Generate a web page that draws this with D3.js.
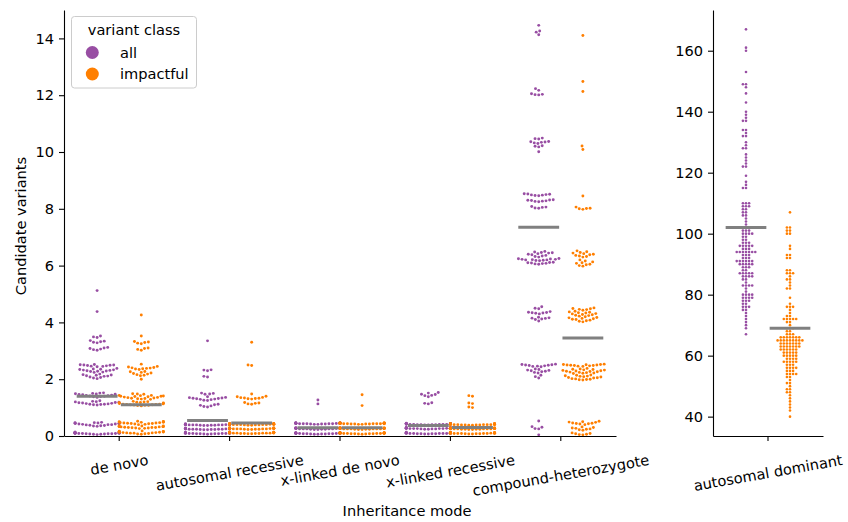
<!DOCTYPE html>
<html>
<head>
<meta charset="utf-8">
<script src="https://cdn.jsdelivr.net/npm/d3@7"></script>
<style>
  body { margin: 0; background: #fff; }
  svg text { font-family: "DejaVu Sans", sans-serif; font-size: 14.6px; fill: #000; }
</style>
</head>
<body>
<svg id="chart" width="848" height="522"></svg>
<script>
// ---- data ----
const categories = ["de novo", "autosomal recessive", "x-linked de novo", "x-linked recessive", "compound-heterozygote"];
const dominantCategory = ["autosomal dominant"];
const hueLevels = ["all", "impactful"];
const hueColors = ["#984ea3", "#ff7f00"];

const deNovoAll = [5.12, 4.38,
  3.47, 3.49, 3.52, 3.28, 3.30, 3.32, 3.34, 3.36, 3.02, 3.04, 3.06, 3.08, 3.10, 3.12,
  2.44, 2.45, 2.46, 2.47, 2.48, 2.49, 2.50, 2.50, 2.51, 2.52,
  2.24, 2.25, 2.27, 2.28, 2.29, 2.30, 2.31, 2.32, 2.33, 2.34, 2.35, 2.36, 2.38,
  2.02, 2.04, 2.06, 2.08, 2.10, 2.11, 2.12, 2.14, 2.15, 2.16, 2.18,
  1.36, 1.38, 1.39, 1.40, 1.41, 1.42, 1.43, 1.44, 1.45, 1.46, 1.47, 1.48, 1.49, 1.50, 1.51, 1.52,
  1.09, 1.10, 1.11, 1.12, 1.12, 1.13, 1.14, 1.15, 1.16, 1.17, 1.18, 1.19, 1.20, 1.21, 1.22, 1.24,
  0.34, 0.35, 0.36, 0.37, 0.38, 0.39, 0.40, 0.40, 0.41, 0.42, 0.42, 0.43, 0.44, 0.44, 0.45, 0.45,
  0.46, 0.47, 0.47, 0.48,
  0.05, 0.06, 0.06, 0.07, 0.07, 0.08, 0.08, 0.08, 0.09, 0.09, 0.09, 0.10, 0.10, 0.10, 0.11, 0.11,
  0.11, 0.12, 0.12, 0.12, 0.13, 0.13, 0.14, 0.14, 0.10, 0.09];

const deNovoImpactful = [4.26,
  3.52, 3.25, 3.27, 3.29, 3.31, 3.33, 3.02, 3.05, 3.08, 3.10,
  2.53, 2.34, 2.36, 2.37, 2.38, 2.39, 2.40, 2.41, 2.43, 2.45,
  2.12, 2.14, 2.16, 2.18, 2.20, 2.22, 2.24, 2.26, 2.27, 2.00,
  1.47, 1.48, 1.49,
  1.29, 1.30, 1.31, 1.32, 1.33, 1.34, 1.35, 1.36, 1.37, 1.38, 1.39, 1.40, 1.40, 1.41, 1.42, 1.43, 1.43,
  1.06, 1.07, 1.08, 1.08, 1.09, 1.10, 1.10, 1.11, 1.12, 1.12, 1.13, 1.14, 1.15, 1.16, 1.16, 1.17,
  1.18, 1.19, 1.20, 1.21, 1.22, 1.11,
  0.40, 0.41, 0.42, 0.43, 0.44, 0.45, 0.46, 0.46, 0.47, 0.48, 0.48, 0.49, 0.50, 0.50, 0.51, 0.52,
  0.44, 0.47,
  0.26, 0.27, 0.28, 0.28, 0.29, 0.30, 0.30, 0.31, 0.32, 0.32, 0.33, 0.33, 0.34, 0.35, 0.35, 0.36,
  0.30, 0.33,
  0.06, 0.07, 0.08, 0.09, 0.10, 0.10, 0.11, 0.12, 0.12, 0.13, 0.13, 0.14, 0.15, 0.15, 0.16, 0.17,
  0.18, 0.11, 0.14];

const recessiveAll = [3.35, 2.30, 2.32, 2.33, 2.08, 2.10,
  1.47, 1.48, 1.50, 1.51,
  1.25, 1.26, 1.28, 1.29, 1.30, 1.31, 1.32, 1.33, 1.34, 1.35, 1.36, 1.38,
  1.02, 1.04, 1.06, 1.08, 1.10, 1.12,
  0.08, 0.10, 0.09, 0.11, 0.07, 0.12, 0.10, 0.08, 0.13, 0.09, 0.10, 0.11, 0.06, 0.12, 0.09, 0.10,
  0.08, 0.11, 0.10, 0.07, 0.09, 0.12, 0.10, 0.11, 0.08,
  0.24, 0.25, 0.23, 0.26, 0.22, 0.27, 0.25, 0.24, 0.26, 0.23, 0.25, 0.28, 0.24, 0.26, 0.25, 0.22,
  0.27, 0.24, 0.25, 0.26, 0.23, 0.25, 0.24, 0.27, 0.26,
  0.39, 0.40, 0.38, 0.41, 0.37, 0.42, 0.40, 0.39, 0.41, 0.38, 0.40, 0.43, 0.39, 0.41, 0.40, 0.37,
  0.42, 0.39, 0.40, 0.41, 0.38, 0.40, 0.39, 0.42, 0.41];

const recessiveImpactful = [3.30, 2.50, 2.48,
  1.48, 1.30, 1.31, 1.32, 1.33, 1.34, 1.35, 1.36, 1.38, 1.40, 1.12, 1.13, 1.15, 1.16, 1.18,
  0.11, 0.09, 0.12, 0.10, 0.13, 0.08, 0.11, 0.12, 0.10, 0.09, 0.14, 0.11, 0.10, 0.12, 0.08, 0.11,
  0.13, 0.10, 0.09, 0.12, 0.11, 0.10, 0.13, 0.09, 0.11,
  0.26, 0.25, 0.27, 0.24, 0.28, 0.26, 0.23, 0.27, 0.25, 0.26, 0.29, 0.24, 0.26, 0.27, 0.25, 0.23,
  0.28, 0.26, 0.25, 0.27, 0.24, 0.26, 0.28, 0.25, 0.26,
  0.41, 0.40, 0.42, 0.39, 0.43, 0.41, 0.38, 0.42, 0.40, 0.41, 0.44, 0.39, 0.41, 0.42, 0.40, 0.38,
  0.43, 0.41, 0.40, 0.42, 0.39, 0.41, 0.43, 0.40, 0.41];

const xDeNovoAll = [1.27, 1.13,
  0.09, 0.08, 0.10, 0.07, 0.11, 0.09, 0.06, 0.10, 0.08, 0.12, 0.09, 0.07, 0.10, 0.11, 0.08, 0.09,
  0.12, 0.06, 0.10, 0.09, 0.08, 0.11, 0.07, 0.10, 0.09,
  0.26, 0.25, 0.27, 0.24, 0.28, 0.26, 0.23, 0.27, 0.25, 0.29, 0.26, 0.24, 0.27, 0.25, 0.26, 0.28,
  0.23, 0.26, 0.25, 0.27, 0.24, 0.26, 0.28, 0.25, 0.27,
  0.44, 0.43, 0.45, 0.42, 0.46, 0.44, 0.41, 0.45, 0.43, 0.44, 0.47, 0.42, 0.44, 0.45, 0.43, 0.41,
  0.46, 0.44, 0.43, 0.45, 0.42, 0.44, 0.46, 0.43, 0.44];

const xDeNovoImpactful = [1.45, 1.07,
  0.10, 0.09, 0.08, 0.11, 0.07, 0.10, 0.12, 0.09, 0.08, 0.10, 0.11, 0.06, 0.09, 0.10, 0.12, 0.08,
  0.09, 0.11, 0.07, 0.10, 0.09, 0.12, 0.08, 0.10, 0.11,
  0.25, 0.27, 0.26, 0.24, 0.28, 0.25, 0.26, 0.23, 0.27, 0.26, 0.25, 0.29, 0.24, 0.26, 0.27, 0.25,
  0.28, 0.24, 0.26, 0.25, 0.27, 0.23, 0.26, 0.28, 0.25,
  0.43, 0.44, 0.42, 0.45, 0.43, 0.41, 0.46, 0.44, 0.42, 0.43, 0.45, 0.44, 0.47, 0.42, 0.43, 0.45,
  0.41, 0.44, 0.43, 0.46, 0.42, 0.44, 0.45, 0.43, 0.44];

const xRecessiveAll = [1.38, 1.42, 1.43, 1.46, 1.47, 1.51, 1.53, 1.13, 1.15, 1.17,
  0.10, 0.08, 0.11, 0.09, 0.12, 0.07, 0.10, 0.11, 0.09, 0.08, 0.13, 0.10, 0.09, 0.11, 0.07, 0.10,
  0.12, 0.09, 0.08, 0.11, 0.10, 0.09, 0.12, 0.08, 0.10,
  0.27, 0.26, 0.28, 0.25, 0.29, 0.27, 0.24, 0.28, 0.26, 0.27, 0.30, 0.25, 0.27, 0.28, 0.26, 0.24,
  0.29, 0.27, 0.26, 0.28, 0.25, 0.27, 0.29, 0.26, 0.27,
  0.41, 0.42, 0.40, 0.43, 0.41, 0.39, 0.44, 0.42, 0.40, 0.41, 0.43, 0.42, 0.45, 0.40, 0.41, 0.43,
  0.39, 0.42, 0.41, 0.44, 0.40, 0.42, 0.43, 0.41, 0.42];

const xRecessiveImpactful = [1.42, 1.40, 1.16, 1.14, 1.02, 1.00,
  0.09, 0.11, 0.10, 0.08, 0.12, 0.10, 0.09, 0.07, 0.11, 0.10, 0.08, 0.12, 0.09, 0.11, 0.10, 0.13,
  0.08, 0.10, 0.09, 0.11, 0.07, 0.10, 0.12, 0.09, 0.10,
  0.25, 0.26, 0.24, 0.27, 0.25, 0.23, 0.28, 0.26, 0.24, 0.25, 0.27, 0.26, 0.29, 0.24, 0.25, 0.27,
  0.23, 0.26, 0.25, 0.28, 0.24, 0.26, 0.27, 0.25, 0.26,
  0.40, 0.41, 0.39, 0.42, 0.40, 0.38, 0.43, 0.41, 0.39, 0.40, 0.42, 0.41, 0.44, 0.39, 0.40, 0.42,
  0.38, 0.41, 0.40, 0.43, 0.39, 0.41, 0.42, 0.40, 0.41];

const compHetAll = [14.46, 14.26, 14.22, 14.13,
  12.23, 12.17, 12.05, 12.03, 12.02, 12.01,
  10.46, 10.47, 10.49, 10.30, 10.32, 10.34, 10.35, 10.36, 10.37, 10.18, 10.20, 10.22, 10.01,
  8.46, 8.47, 8.48, 8.49, 8.50, 8.51, 8.52, 8.53,
  8.25, 8.26, 8.27, 8.28, 8.29, 8.30, 8.31, 8.32,
  8.02, 8.03, 8.05, 8.06, 8.08,
  6.30, 6.32, 6.34, 6.36, 6.38, 6.40, 6.42, 6.44, 6.45, 6.46, 6.48, 6.50,
  6.17, 6.18, 6.19, 6.20, 6.20, 6.21, 6.22, 6.22, 6.23, 6.24, 6.25,
  6.05, 6.06, 6.07, 6.08, 6.09, 6.10, 6.11, 6.12,
  4.48, 4.50, 4.55, 4.30, 4.32, 4.33, 4.34, 4.35, 4.36, 4.38,
  4.05, 4.10, 4.12, 4.14, 4.15, 4.16, 4.18,
  2.44, 2.45, 2.46, 2.47, 2.48, 2.49, 2.50, 2.51, 2.52, 2.53,
  2.22, 2.24, 2.26, 2.28, 2.30, 2.31, 2.32, 2.34, 2.36,
  2.04, 2.09, 2.14,
  0.53, 0.33, 0.31, 0.26, 0.25, 0.04];

const compHetImpactful = [14.10, 12.48, 12.13, 10.21, 10.09, 8.45, 8.06, 8.02, 8.01, 8.00, 7.98,
  6.30, 6.32, 6.34, 6.36, 6.38, 6.40, 6.42, 6.44, 6.46, 6.49, 6.52,
  5.98, 6.00, 6.03, 6.05, 6.08, 6.10, 6.13, 6.16, 6.20,
  4.43, 4.45, 4.46, 4.48, 4.49, 4.51,
  4.20, 4.22, 4.24, 4.25, 4.27, 4.28, 4.30, 4.31, 4.33, 4.34, 4.36, 4.37, 4.39,
  4.02, 4.04, 4.06, 4.08, 4.10, 4.11, 4.13, 4.14, 4.16, 4.17,
  2.45, 2.46, 2.47, 2.48, 2.48, 2.49, 2.50, 2.50, 2.51, 2.52, 2.52, 2.53,
  2.20, 2.21, 2.22, 2.23, 2.24, 2.25, 2.26, 2.27, 2.28, 2.29, 2.30, 2.31, 2.32, 2.33, 2.34, 2.35,
  2.36, 2.38,
  1.97, 1.98, 1.99, 2.00, 2.01, 2.02, 2.04, 2.05, 2.06, 2.08, 2.09, 2.10, 2.11, 2.12, 2.14, 2.15,
  0.40, 0.42, 0.43, 0.44, 0.45, 0.46, 0.48, 0.49, 0.50, 0.52,
  0.20, 0.22, 0.24, 0.25, 0.27, 0.28, 0.30, 0.32,
  0.04, 0.05, 0.06, 0.08, 0.09, 0.11];

const dominantAll = [167, 161, 160, 153, 149, 149, 148, 146, 143, 140, 139, 138, 137, 137, 134, 134,
  133, 132, 132, 130, 129, 128, 128, 126, 125, 124, 123, 122, 122, 119, 117, 116, 115, 115,
  110, 110, 110, 109, 109, 109, 108, 108, 107, 107, 106, 106, 105, 104, 103,
  102, 102, 102, 102, 101, 101, 101, 100, 100, 100, 100, 99, 99, 98, 98, 97, 97, 97,
  96, 96, 96, 96, 96, 95, 95, 95, 94, 94, 94, 94, 94, 94, 94, 93, 93, 93, 92, 92, 92,
  91, 91, 91, 91, 91, 91, 90, 90, 90, 90, 90, 89, 89, 89, 88, 88, 87, 87, 87, 87, 87,
  86, 86, 86, 86, 85, 85, 84, 83, 83, 83, 83, 82, 81, 80, 80, 80, 80, 79, 79, 79, 79,
  78, 78, 78, 77, 77, 76, 76, 76, 75, 75, 74, 73, 72, 71, 70, 69, 67];

const dominantImpactful = [107, 102, 102, 101, 101, 100, 100, 96, 95, 93, 93, 92, 92,
  88, 88, 87, 87, 87, 86, 85, 85, 84, 83, 82, 82, 79, 77, 76, 76, 76, 75, 74, 73, 73,
  72, 72, 72, 72, 72, 71, 71, 70, 69, 69, 69, 68, 68, 67, 67, 67,
  66, 66, 66, 66, 66, 66, 66, 65, 65, 65, 65, 65, 65, 65, 65, 65,
  64, 64, 64, 64, 64, 64, 64, 63, 63, 63, 63, 63, 63, 63, 62, 62, 62, 62, 62, 62,
  61, 61, 61, 61, 61, 60, 60, 60, 60, 60, 59, 59, 59, 59, 58, 58, 58, 58, 58,
  57, 57, 57, 56, 56, 56, 56, 55, 55, 55, 54, 54, 54, 54, 53, 53, 52, 51, 51, 50,
  49, 49, 48, 48, 47, 46, 45, 44, 43, 42, 40];

// per-category mean lines (all, impactful)
const meanAll = [1.40, 0.55, 0.29, 0.37, 7.35];
const meanImpactful = [1.10, 0.46, 0.29, 0.30, 3.45];
const dominantMeans = [102, 69];

const leftTicks = [0, 2, 4, 6, 8, 10, 12, 14];
const rightTicks = [40, 60, 80, 100, 120, 140, 160];

const leftSeries = [
  [deNovoAll, deNovoImpactful],
  [recessiveAll, recessiveImpactful],
  [xDeNovoAll, xDeNovoImpactful],
  [xRecessiveAll, xRecessiveImpactful],
  [compHetAll, compHetImpactful]
];
const rightSeries = [[dominantAll, dominantImpactful]];

// ---- layout ----
const svg = d3.select("#chart");
const yLeft = d3.scaleLinear().domain([0, 15]).range([436, 10]);
const xLeft = d3.scaleBand().domain(categories).range([64, 616]);
const yRight = d3.scaleLinear().domain([33.65, 173.35]).range([436, 10]);
const xRight = d3.scaleBand().domain(dominantCategory).range([713, 823]);

// seaborn-style beeswarm: values placed in ascending order, each at the
// free position nearest the midline; overflow is pinned to the gutter.
function beeswarm(values, y, cx, d, half) {
  const pts = values.map(v => ({ v, y: y(v) })).sort((a, b) => a.v - b.v);
  const placed = [];
  for (const p of pts) {
    const nb = [];
    for (let j = placed.length - 1; j >= 0; j--) {
      const q = placed[j];
      if (Math.abs(q.y - p.y) < d) nb.push(q); else break;
    }
    const cands = [0];
    let leftFirst = true;
    for (const q of nb) {
      const dy = p.y - q.y;
      const dx = Math.sqrt(Math.max(d * d - dy * dy, 0)) * 1.05;
      if (leftFirst) cands.push(q.x - dx, q.x + dx); else cands.push(q.x + dx, q.x - dx);
      leftFirst = !leftFirst;
    }
    const order = cands.map((x, i) => ({ x, i }))
      .sort((a, b) => (Math.abs(a.x) - Math.abs(b.x)) || (a.i - b.i));
    let chosen = 0;
    for (const c of order) {
      let ok = true;
      for (const q of nb) {
        const dx = c.x - q.x, dy = p.y - q.y;
        if (dx * dx + dy * dy < d * d - 1e-6) { ok = false; break; }
      }
      if (ok) { chosen = c.x; break; }
    }
    p.x = chosen;
    placed.push(p);
  }
  return placed.map(p => ({ x: cx + Math.max(-half, Math.min(half, p.x)), y: p.y }));
}

function drawPanel(series, cats, x, y, d, r, means) {
  const g = svg.append("g");
  const bw = x.bandwidth();
  cats.forEach((c, ci) => {
    series[ci].forEach((vals, hi) => {
      const cx = x(c) + bw / 2 + (hi === 0 ? -0.2 : 0.2) * bw;
      const pts = beeswarm(vals, y, cx, d, 0.2 * bw);
      g.append("g").selectAll("circle").data(pts).join("circle")
        .attr("cx", p => p.x).attr("cy", p => p.y).attr("r", r)
        .attr("fill", hueColors[hi]);
    });
  });
  cats.forEach((c, ci) => {
    means[ci].forEach((m, hi) => {
      const cx = x(c) + bw / 2 + (hi === 0 ? -0.2 : 0.2) * bw;
      g.append("line")
        .attr("x1", cx - 0.185 * bw).attr("x2", cx + 0.185 * bw)
        .attr("y1", y(m)).attr("y2", y(m))
        .attr("stroke", "#808080").attr("stroke-width", 3);
    });
  });
}

drawPanel(leftSeries, categories, xLeft, yLeft, 3.5, 1.45,
  categories.map((c, i) => [meanAll[i], meanImpactful[i]]));
drawPanel(rightSeries, dominantCategory, xRight, yRight, 2.95, 1.3, [dominantMeans]);

// ---- axes ----
function styleAxis(g) {
  g.selectAll("path.domain").attr("stroke", "#000").attr("stroke-width", 1.1);
  g.selectAll(".tick line").attr("stroke", "#000").attr("stroke-width", 1.1);
  g.selectAll(".tick text").style("font-family", "DejaVu Sans, sans-serif").style("font-size", "14.6px").attr("fill", "#000");
}

const yAxL = svg.append("g").attr("transform", "translate(64,0)")
  .call(d3.axisLeft(yLeft).tickValues(leftTicks).tickSize(5).tickPadding(5).tickSizeOuter(0));
styleAxis(yAxL);
const yAxR = svg.append("g").attr("transform", "translate(713,0)")
  .call(d3.axisLeft(yRight).tickValues(rightTicks).tickSize(5).tickPadding(5).tickSizeOuter(0));
styleAxis(yAxR);

function xAxis(x, y0) {
  const g = svg.append("g").attr("transform", `translate(0,${y0})`)
    .call(d3.axisBottom(x).tickSize(5).tickSizeOuter(0).tickFormat(""));
  styleAxis(g);
  return g;
}
xAxis(xLeft, 436);
xAxis(xRight, 436);

// rotated category labels, bounding box top aligned below the ticks
const angle = 10;
function rotLabel(text, x, top) {
  const t = svg.append("text").text(text)
    .attr("text-anchor", "middle").attr("dominant-baseline", "central");
  const L = t.node().getComputedTextLength();
  const a = angle * Math.PI / 180;
  const h = 17;
  const H = L * Math.sin(a) + h * Math.cos(a);
  t.attr("transform", `translate(${x},${top + H / 2}) rotate(${-angle})`);
}
categories.forEach(c => rotLabel(c, xLeft(c) + xLeft.bandwidth() / 2, 451));
dominantCategory.forEach(c => rotLabel(c, xRight(c) + xRight.bandwidth() / 2, 451));

// axis titles
svg.append("text").text("Candidate variants")
  .attr("text-anchor", "middle")
  .attr("transform", "translate(26,226) rotate(-90)");
svg.append("text").text("Inheritance mode")
  .attr("text-anchor", "middle").attr("x", 407).attr("y", 516);

// ---- legend ----
const lg = svg.append("g");
lg.append("rect").attr("x", 71.5).attr("y", 16.5).attr("width", 125).attr("height", 71.5)
  .attr("rx", 3).attr("fill", "#fff").attr("fill-opacity", 0.8)
  .attr("stroke", "#cccccc").attr("stroke-width", 1);
lg.append("text").text("variant class").attr("x", 134).attr("y", 35).attr("text-anchor", "middle");
hueLevels.forEach((h, i) => {
  lg.append("circle").attr("cx", 92.3).attr("cy", 52.5 + i * 21.5).attr("r", 6.5).attr("fill", hueColors[i]);
  lg.append("text").text(h).attr("x", 120).attr("y", 57.5 + i * 21.5);
});
</script>
</body>
</html>
